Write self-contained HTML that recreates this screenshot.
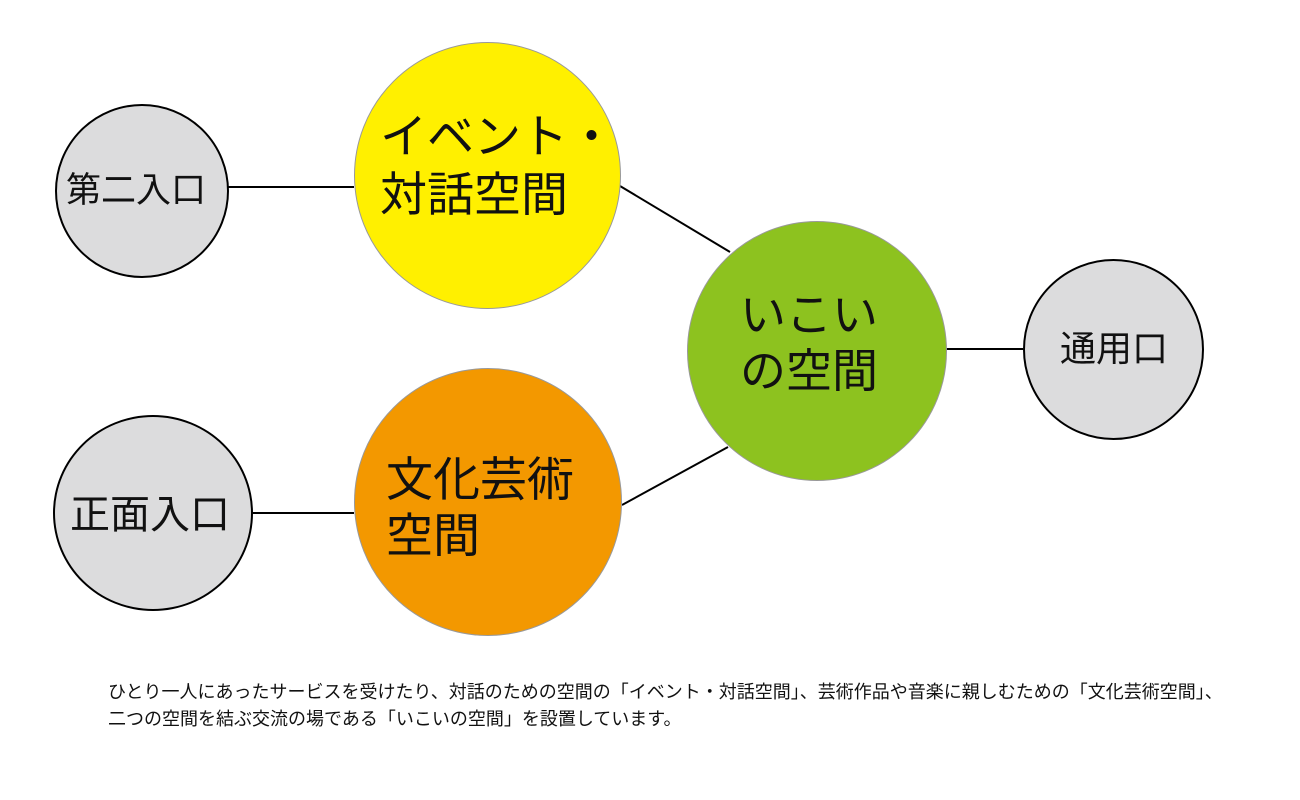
<!DOCTYPE html>
<html><head><meta charset="utf-8"><style>
body{margin:0;width:1300px;height:800px;background:#fff;position:relative;overflow:hidden;font-family:"Liberation Sans","Noto Sans CJK JP",sans-serif;}
.c{position:absolute;border-radius:50%;box-sizing:border-box;}
.t{position:absolute;color:#111;white-space:nowrap;line-height:1;}
</style></head><body>
<svg width="1300" height="800" style="position:absolute;left:0;top:0">
<line x1="228" y1="187" x2="354" y2="187" stroke="#000" stroke-width="2"/>
<line x1="620" y1="186" x2="730" y2="252" stroke="#000" stroke-width="2"/>
<line x1="622" y1="505" x2="728" y2="447" stroke="#000" stroke-width="2"/>
<line x1="946" y1="349" x2="1023" y2="349" stroke="#000" stroke-width="2"/>
<line x1="253" y1="513" x2="354" y2="513" stroke="#000" stroke-width="2"/>
</svg>
<div class="c" style="left:55px;top:104px;width:174px;height:174px;background:#dcdcdd;border:2px solid #000"></div>
<div class="c" style="left:53px;top:415px;width:200px;height:196px;background:#dcdcdd;border:2px solid #000"></div>
<div class="c" style="left:1023px;top:259px;width:181px;height:181px;background:#dcdcdd;border:2px solid #000"></div>
<div class="c" style="left:354px;top:42px;width:267px;height:267px;background:#fff000;border:1px solid #999"></div>
<div class="c" style="left:354px;top:368px;width:268px;height:268px;background:#f39800;border:1px solid #999"></div>
<div class="c" style="left:687px;top:221px;width:260px;height:260px;background:#8dc21f;border:1px solid #999"></div>
<div class="t" style="left:66px;top:173px;font-size:35px">第二入口</div>
<div class="t" style="left:70px;top:495px;font-size:40px">正面入口</div>
<div class="t" style="left:1060px;top:331px;font-size:36px">通用口</div>
<div class="t" style="left:380px;top:113px;font-size:47px">イベント・</div>
<div class="t" style="left:380px;top:171px;font-size:47px">対話空間</div>
<div class="t" style="left:740px;top:292px;font-size:46px">いこい</div>
<div class="t" style="left:740px;top:348px;font-size:46px">の空間</div>
<div class="t" style="left:386px;top:456px;font-size:47px">文化芸術</div>
<div class="t" style="left:386px;top:512px;font-size:47px">空間</div>
<div class="t" style="left:108px;top:683px;font-size:18px">ひとり一人にあったサービスを受けたり、対話のための空間の「イベント・対話空間」、芸術作品や音楽に親しむための「文化芸術空間」、</div>
<div class="t" style="left:108px;top:710px;font-size:18px">二つの空間を結ぶ交流の場である「いこいの空間」を設置しています。</div>
</body></html>
